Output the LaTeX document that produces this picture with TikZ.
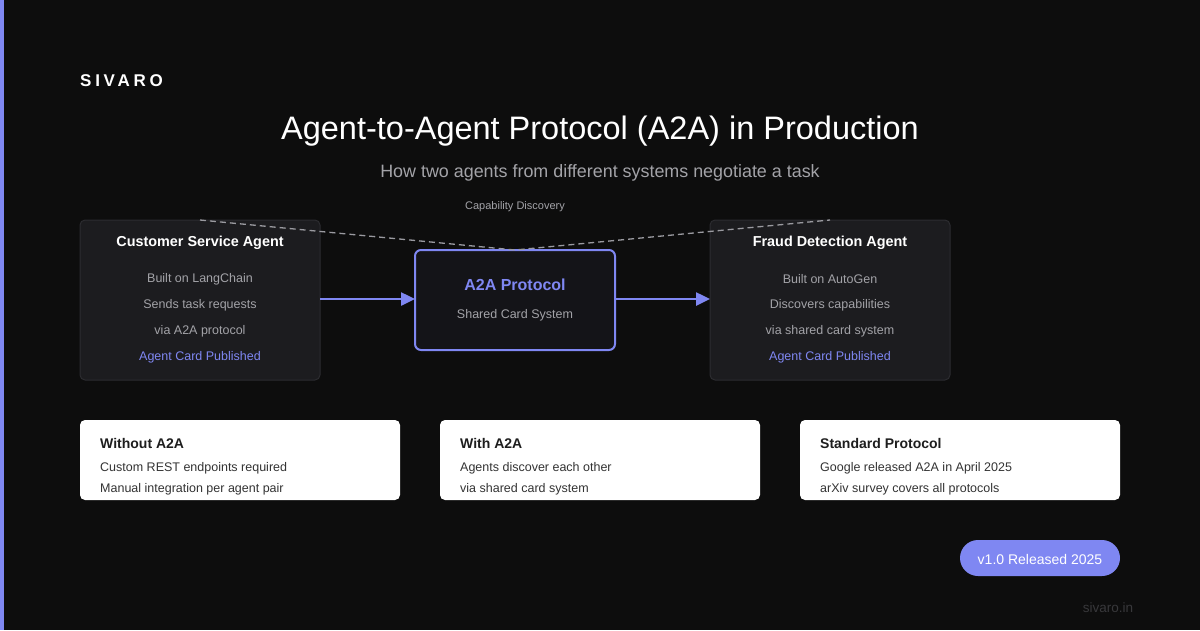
\documentclass[tikz,border=0pt]{standalone}
\usepackage{fontspec}
\setmainfont{Liberation Sans}
\usetikzlibrary{arrows.meta}
\definecolor{bg}{HTML}{0D0D0D}
\definecolor{accent}{HTML}{7F87F2}
\definecolor{cardbg}{HTML}{1C1C1F}
\definecolor{cardline}{HTML}{2C2C30}
\definecolor{midbg}{HTML}{141418}
\definecolor{subgray}{HTML}{A3A3A8}
\definecolor{dashgray}{HTML}{9A9AA0}
\definecolor{darktxt}{HTML}{1E1E1E}
\definecolor{bodytxt}{HTML}{333333}
\definecolor{foot}{HTML}{38383B}
\tikzset{
  x=1pt, y=-1pt,
  agentbox/.style={draw=cardline, fill=cardbg, rounded corners=5pt, line width=1pt},
  protobox/.style={draw=accent, fill=midbg, rounded corners=6pt, line width=2pt},
  whitecard/.style={fill=white, rounded corners=5pt},
  agenttitle/.style={text=white, font=\bfseries\fontsize{14.4}{17}\selectfont},
  bodyline/.style={text=subgray, font=\fontsize{12.5}{15}\selectfont},
  cardlink/.style={text=accent, font=\fontsize{12.5}{15}\selectfont},
  ctitle/.style={text=darktxt, anchor=west, inner sep=0pt, font=\bfseries\fontsize{14}{17}\selectfont},
  cbody/.style={text=bodytxt, anchor=west, inner sep=0pt, font=\fontsize{12.5}{15}\selectfont},
  flow/.style={draw=accent, line width=2.5pt, -{Triangle[length=14pt,width=13pt]}},
  discover/.style={draw=dashgray, line width=1.3pt, dash pattern=on 6pt off 4pt},
}
\begin{document}
\begin{tikzpicture}
\useasboundingbox (0,0) rectangle (1200,630);
\fill[bg] (0,0) rectangle (1200,630);
\fill[accent] (0,0) rectangle (4,630);

\node[anchor=west, inner sep=0pt, text=white, font=\bfseries\fontsize{17}{20}\selectfont\addfontfeatures{LetterSpace=22}] (brand) at (80,81) {SIVARO};
\node[text=white, font=\fontsize{32.5}{38}\selectfont] (title) at (600,131) {Agent-to-Agent Protocol (A2A) in Production};
\node[text=subgray, font=\fontsize{17.9}{21}\selectfont] (subtitle) at (600,173) {How two agents from different systems negotiate a task};

% agent boxes
\path[agentbox] (80,220) rectangle (320,380);
\coordinate (leftE) at (320,299);
\path[agentbox] (710,220) rectangle (950,380);
\coordinate (rightW) at (710,299);
\path[protobox] (415,250) rectangle (615,350);
\coordinate (protoW) at (415,299);
\coordinate (protoE) at (615,299);
\coordinate (protoN) at (515,250);
\coordinate (dashL) at (200,220);
\coordinate (dashR) at (830,220);

\draw[discover] (dashL) -- (protoN) -- (dashR);
\node[text=subgray, font=\fontsize{11}{13}\selectfont] (capdisc) at (515,207) {Capability Discovery};

\node[agenttitle] (csTitle) at (200,243) {Customer Service Agent};
\node[bodyline] (cs1) at (200,279) {Built on LangChain};
\node[bodyline] (cs2) at (200,305) {Sends task requests};
\node[bodyline] (cs3) at (200,331) {via A2A protocol};
\node[cardlink] (cs4) at (200,357) {Agent Card Published};

\node[agenttitle] (fdTitle) at (830,243) {Fraud Detection Agent};
\node[bodyline] (fd1) at (830,279) {Built on AutoGen};
\node[bodyline] (fd2) at (830,305) {Discovers capabilities};
\node[bodyline] (fd3) at (830,331) {via shared card system};
\node[cardlink] (fd4) at (830,357) {Agent Card Published};

\node[text=accent, font=\bfseries\fontsize{16}{19}\selectfont] (protoTitle) at (515,285) {A2A Protocol};
\node[bodyline] (protoSub) at (515,315) {Shared Card System};

\draw[flow] (leftE) -- (protoW);
\draw[flow] (protoE) -- (rightW);

% bottom cards
\path[whitecard] (80,420) rectangle (400,500);
\node[ctitle] (c1t) at (100,443) {Without A2A};
\node[cbody] (c1a) at (100,468) {Custom REST endpoints required};
\node[cbody] (c1b) at (100,489) {Manual integration per agent pair};

\path[whitecard] (440,420) rectangle (760,500);
\node[ctitle] (c2t) at (460,443) {With A2A};
\node[cbody] (c2a) at (460,468) {Agents discover each other};
\node[cbody] (c2b) at (460,489) {via shared card system};

\path[whitecard] (800,420) rectangle (1120,500);
\node[ctitle] (c3t) at (820,443) {Standard Protocol};
\node[cbody] (c3a) at (820,468) {Google released A2A in April 2025};
\node[cbody] (c3b) at (820,489) {arXiv survey covers all protocols};

\fill[accent, rounded corners=18pt] (960,540) rectangle (1120,576);
\node[text=white, font=\fontsize{14}{17}\selectfont] (badge) at (1040,559) {v1.0 Released 2025};

\node[text=foot, font=\fontsize{13.5}{16}\selectfont] (site) at (1108,608) {sivaro.in};
\end{tikzpicture}
\end{document}
